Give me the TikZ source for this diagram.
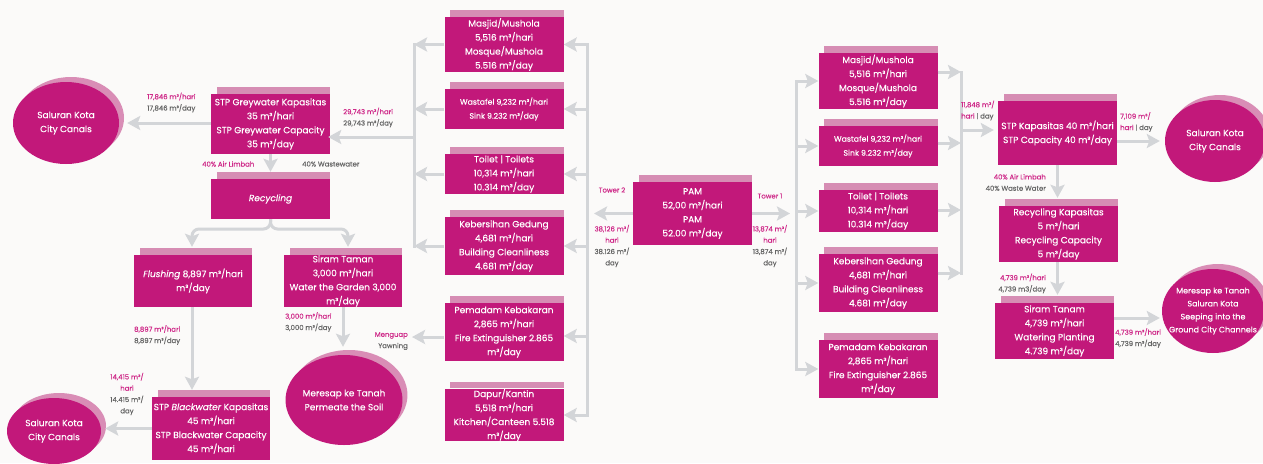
\documentclass[tikz,border=0pt]{standalone}
\usepackage{fontspec}
\setmainfont{Poppins}[FakeBold=0.25]
\usetikzlibrary{arrows.meta,shapes.geometric,shadows}
\definecolor{mag}{HTML}{C2187A}
\definecolor{acc}{HTML}{D68DB4}
\definecolor{shd}{HTML}{D98DB6}
\definecolor{linec}{HTML}{D3D5D8}
\definecolor{bgc}{HTML}{FBFAF9}
\definecolor{pinkt}{HTML}{CF2A89}
\definecolor{greyt}{HTML}{666666}
\tikzset{
  box/.style={rectangle, fill=mag, text=white, inner sep=0pt, align=center,
    minimum width=119pt, font=\fontsize{9}{14}\selectfont},
  ell/.style={ellipse, fill=mag, text=white, inner sep=0pt, align=center,
    font=\fontsize{9}{14}\selectfont,
    general shadow={fill=shd, shadow xshift=5pt, shadow yshift=5pt}},
  elltext/.style={text=white, align=center, inner sep=0pt, font=\fontsize{8}{13}\selectfont},
  conn/.style={draw=linec, line width=3pt},
  arr/.style={conn, -{Stealth[length=13pt,width=14pt,inset=2.5pt]}},
  arrb/.style={conn, {Stealth[length=13pt,width=14pt,inset=2.5pt]}-{Stealth[length=13pt,width=14pt,inset=2.5pt]}},
  lbl/.style={inner sep=0pt, text=greyt, font=\fontsize{6.9}{11.3}\selectfont},
}
\begin{document}
\begin{tikzpicture}[x=1pt,y=-1pt]
\useasboundingbox (0,0) rectangle (1263,463);
\clip (0,0) rectangle (1263,463);
\fill[bgc] (0,0) rectangle (1263,463);

% ---------- Tower 2 boxes ----------
\node[box, minimum height=55pt] (m2) at (504,44.5) {Masjid/Mushola\\5,516 m³/hari\\Mosque/Mushola\\5.516 m³/day};
\node[box, minimum height=40pt, font=\fontsize{7.8}{14}\selectfont] (w2) at (504,109) {Wastafel 9,232 m³/hari\\Sink 9.232 m³/day};
\node[box, minimum height=40pt] (t2) at (504,174) {Toilet | Toilets\\10,314 m³/hari\\10.314 m³/day};
\node[box, minimum height=58pt] (k2) at (504,246) {Kebersihan Gedung\\4,681 m³/hari\\Building Cleanliness\\4.681 m³/day};
\node[box, minimum height=58pt] (p2) at (504,332) {Pemadam Kebakaran\\2,865 m³/hari\\Fire Extinguisher 2.865\\m³/day};
\node[box, minimum height=52pt] (d2) at (504,415) {Dapur/Kantin\\5,518 m³/hari\\Kitchen/Canteen 5.518\\m³/day};

% ---------- PAM ----------
\node[box, minimum height=63pt] (pam) at (692.5,213.5) {PAM\\52,00 m³/hari\\PAM\\52.00 m³/day};

% ---------- Greywater side ----------
\node[box, minimum height=60pt] (g) at (270.5,124) {STP Greywater Kapasitas\\35 m³/hari\\STP Greywater Capacity\\35 m³/day};
\node[box, minimum height=40pt] (rc) at (270.5,199) {\textit{Recycling}};
\node[box, minimum width=118pt, minimum height=52pt] (fl) at (193,281) {\textit{Flushing} 8,897 m³/hari\\m³/day};
\node[box, minimum width=118pt, minimum height=52pt] (st) at (343,281) {Siram Taman\\3,000 m³/hari\\Water the Garden 3,000\\m³/day};
\node[box, minimum width=118pt, minimum height=63pt] (bw) at (211,428.5) {STP \textit{Blackwater} Kapasitas\\45 m³/hari\\STP Blackwater Capacity\\45 m³/hari};

% ---------- Tower 1 boxes ----------
\node[box, minimum height=56pt] (m1) at (878,81) {Masjid/Mushola\\5,516 m³/hari\\Mosque/Mushola\\5.516 m³/day};
\node[box, minimum height=40pt, font=\fontsize{7.8}{14}\selectfont] (w1) at (878,146) {Wastafel 9,232 m³/hari\\Sink 9.232 m³/day};
\node[box, minimum height=42pt] (t1) at (878,211) {Toilet | Toilets\\10,314 m³/hari\\10.314 m³/day};
\node[box, minimum height=58pt] (k1) at (878,283) {Kebersihan Gedung\\4,681 m³/hari\\Building Cleanliness\\4.681 m³/day};
\node[box, minimum height=58pt] (p1) at (878,369) {Pemadam Kebakaran\\2,865 m³/hari\\Fire Extinguisher 2.865\\m³/day};

\node[box, minimum height=64pt] (s1) at (1057.5,133) {STP Kapasitas 40 m³/hari\\STP Capacity 40 m³/day};
\node[box, minimum height=56pt] (rc1) at (1058.5,234) {Recycling Kapasitas\\5 m³/hari\\Recycling Capacity\\5 m³/day};
\node[box, minimum height=56pt] (sr) at (1054.5,331) {Siram Tanam\\4,739 m³/hari\\Watering Planting\\4.739 m³/day};

% accent strips
\foreach \n in {m2,w2,t2,k2,p2,d2,pam,g,rc,fl,st,bw,m1,w1,t1,k1,p1,s1,rc1,sr}
  \fill[acc] ([xshift=6pt]\n.north west) rectangle ([yshift=6.5pt]\n.north east);

% ---------- Ellipses ----------
\node[ell, minimum width=106pt, minimum height=82pt] (e1) at (66,123) {Saluran Kota\\City Canals};
\node[ell, minimum width=94pt, minimum height=66pt] (e2) at (54,431) {Saluran Kota\\City Canals};
\node[ell, minimum width=116pt, minimum height=90pt] (e3) at (344,400) {Meresap ke Tanah\\Permeate the Soil};
\node[ell, minimum width=100pt, minimum height=82pt] (e4) at (1215,141) {Saluran Kota\\City Canals};
\node[ell, minimum width=102pt, minimum height=84pt,
  label={[elltext]center:{Meresap ke Tanah\\Saluran Kota\\Seeping into the\\Ground City Channels}}] (e5) at (1213,311) {};

% ---------- Connectors: Tower 2 ----------
\coordinate (busL) at (587,0);
\coordinate (busG) at (414,0);
\coordinate (mg) at (412,337);
\draw[arr, shorten >=7pt] (pam.west) -- (busL |- pam.west);
\draw[arrb] (m2.east) -- (busL |- m2.east) -- (busL |- d2.east) -- (d2.east);
\foreach \n in {w2,t2,k2} \draw[arr] (busL |- \n.east) -- (\n.east);
\draw[arr] (busL |- 0,336) -- (p2.east |- 0,336);
\draw[conn, line cap=rect] (busG |- m2.west) -- (busG |- k2.west);
\foreach \n in {m2,w2,t2,k2} \draw[arr] (\n.west) -- (busG |- \n.west);
\draw[arr, shorten >=-2pt] (busG |- 0,137) -- (g.east |- 0,137);
\draw[arr] (p2.west |- mg) -- (mg);

% greywater chain
\draw[arr, shorten >=8pt] (g.west |- 0,123) -- (e1.east |- 0,123);
\draw[arr, shorten >=7pt] (g.south) -- (g.south |- rc.north);
\draw[arr, rounded corners=7pt] (rc.south) -- (270.5,229) -| ([xshift=-1pt,yshift=8pt]fl.north);
\draw[arr, rounded corners=7pt] (rc.south) -- (270.5,229) -| ([xshift=5pt,yshift=8pt]st.north);
\draw[arr, shorten >=7pt] ([xshift=-1pt]fl.south) -- ([xshift=-1pt]fl.south |- bw.north);
\draw[arr, shorten >=4pt] (bw.west) -- (e2.east |- bw.west);
\draw[arr, shorten >=8pt] (st.south) -- (st.south |- e3.north);

% ---------- Connectors: Tower 1 ----------
\coordinate (busR) at (796,0);
\coordinate (busS) at (961,0);
\draw[arr, shorten >=6pt] (pam.east) -- (busR |- pam.east);
\draw[arrb] (m1.west) -- (busR |- m1.west) -- (busR |- p1.west) -- (p1.west);
\foreach \n in {w1,t1,k1} \draw[arr] (busR |- \n.west) -- (\n.west);
\draw[conn, line cap=rect] (busS |- 0,72) -- (busS |- 0,273);
\draw[arr] (m1.east |- 0,72) -- (busS |- 0,72);
\draw[arr] (w1.east |- 0,143) -- (busS |- 0,143);
\draw[arr] (t1.east |- 0,210) -- (busS |- 0,210);
\draw[arr] (k1.east |- 0,273) -- (busS |- 0,273);
\draw[arr, shorten >=4pt] (busS |- 0,130) -- (s1.west |- 0,130);
\draw[arr, shorten >=5pt] (s1.east |- 0,141) -- (e4.west |- 0,141);
\draw[arr, shorten >=8pt] (s1.south) -- (s1.south |- rc1.north);
\draw[arr, shorten >=8pt] (s1.south |- rc1.south) -- (s1.south |- sr.north);
\draw[arr, shorten >=2pt] (sr.east |- 0,318) -- (e5.west |- 0,318);

% ---------- Labels ----------
\node[lbl, anchor=west, align=left] (l1) at (147,102.5) {\textcolor{pinkt}{17,846 m³/hari}\\17,846 m³/day};
\node[lbl, anchor=west, align=left] (l2) at (343,117.5) {\textcolor{pinkt}{29,743 m³/hari}\\29,743 m³/day};
\node[lbl, anchor=west, text=pinkt] (l3) at (202,164) {40\% Air Limbah};
\node[lbl, anchor=west] (l4) at (302,164) {40\% Wastewater};
\node[lbl, anchor=west, align=left] (l5) at (134,335) {\textcolor{pinkt}{8,897 m³/hari}\\8,897 m³/day};
\node[lbl, align=center] (l6) at (127,394) {\textcolor{pinkt}{14,415 m³/}\\\textcolor{pinkt}{hari}\\14.415 m³/\\day};
\node[lbl, anchor=west, align=left] (l7) at (285,322) {\textcolor{pinkt}{3,000 m³/hari}\\3,000 m³/day};
\node[lbl, anchor=east, align=right] (l8) at (408,341) {\textcolor{pinkt}{Menguap}\\Yawning};
\node[lbl, text=pinkt] (l9) at (612,190) {Tower 2};
\node[lbl, align=center] (l10) at (612,246) {\textcolor{pinkt}{38,126 m³/}\\\textcolor{pinkt}{hari}\\38.126 m³/\\day};
\node[lbl, text=pinkt] (l11) at (770,196) {Tower 1};
\node[lbl, align=center] (l12) at (770,246) {\textcolor{pinkt}{13,874 m³/}\\\textcolor{pinkt}{hari}\\13,874 m³/\\day};
\node[lbl, anchor=west, align=left] (l13) at (961,110.5) {\textcolor{pinkt}{11,848 m³/}\\\textcolor{pinkt}{hari} | day};
\node[lbl, anchor=west, align=left] (l14) at (1120,122) {\textcolor{pinkt}{7,109 m³/}\\\textcolor{pinkt}{hari} | day};
\node[lbl, anchor=east, align=right] (l15) at (1046,182.5) {\textcolor{pinkt}{40\% Air Limbah}\\40\% Waste Water};
\node[lbl, anchor=east, align=right] (l16) at (1046,283.5) {\textcolor{pinkt}{4,739 m³/hari}\\4,739 m3/day};
\node[lbl, anchor=west, align=left] (l17) at (1115,338) {\textcolor{pinkt}{4,739 m³/hari}\\4,739 m³/day};
\end{tikzpicture}
\end{document}
